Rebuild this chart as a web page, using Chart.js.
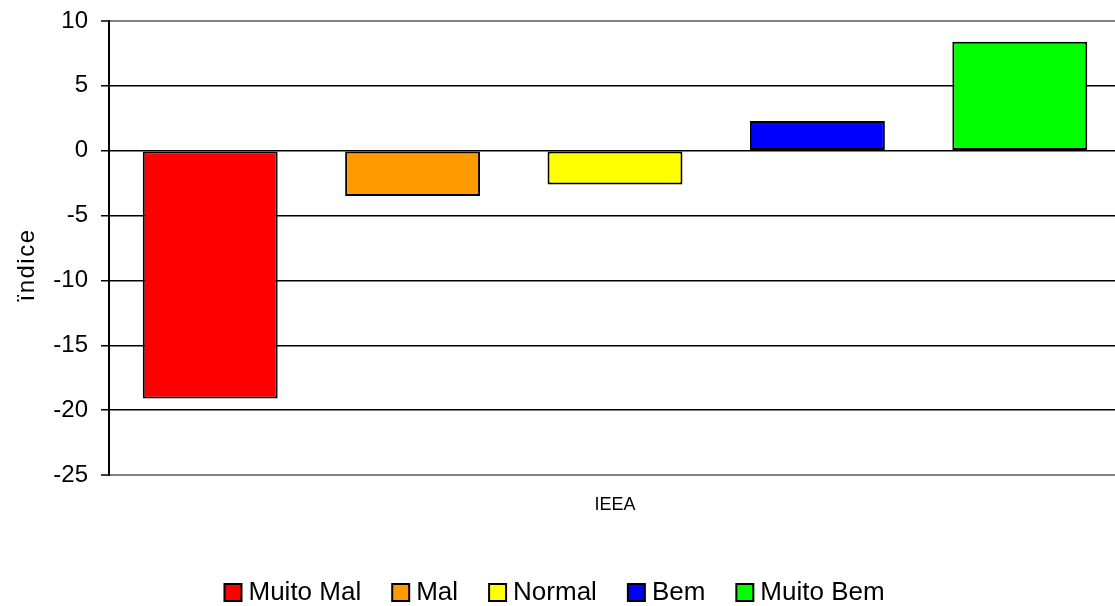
<!DOCTYPE html>
<html>
<head>
<meta charset="utf-8">
<script src="https://cdn.jsdelivr.net/npm/chart.js@4.4.1/dist/chart.umd.min.js"></script>
<style>
html,body{margin:0;padding:0;overflow:hidden;background:#fff;width:1115px;height:606px}
#wrap{position:absolute;left:0;top:0;width:1121px;height:606px}
</style>
</head>
<body>
<div id="wrap"><canvas id="c"></canvas></div>
<script>
// ---- data ----
const categories = ['IEEA'];
const seriesNames = ['Muito Mal', 'Mal', 'Normal', 'Bem', 'Muito Bem'];
const muitoMal = [-19.1];
const mal = [-3.5];
const normal = [-2.6];
const bem = [2.3];
const muitoBem = [8.4];
const yTicks = [-25, -20, -15, -10, -5, 0, 5, 10];
const yAxisTitle = 'ïndice';

// ---- styles ----
const seriesColors = ['#FF0000', '#FF9900', '#FFFF00', '#0000FF', '#00FF00'];
const seriesData = [muitoMal, mal, normal, bem, muitoBem];
const FONT = '"Liberation Sans", Arial, sans-serif';

const datasets = seriesNames.map((name, i) => ({
  label: name,
  data: seriesData[i],
  backgroundColor: seriesColors[i],
  borderColor: '#000',
  borderWidth: 2,
  borderSkipped: false,
  categoryPercentage: 1.0,
  barPercentage: 0.6667
}));

const yMin = Math.min(...yTicks), yMax = Math.max(...yTicks);

const tweakPlugin = {
  id: 'tweak',
  afterLayout(chart) {
    const L = chart.legend;
    if (L) {
      const h = L.bottom - L.top;
      L.left = 193.5;
      L.top = 542.5;
      L.bottom = 542.5 + h;
    }
    const s = chart.scales.y;
    if (s && !s._titlePatched && typeof s.drawTitle === 'function') {
      const orig = s.drawTitle;
      s.drawTitle = function () {
        const ctx = this.ctx;
        ctx.save();
        ctx.translate(0, 17);
        try { ctx.letterSpacing = '1.5px'; } catch (e) {}
        orig.apply(this, arguments);
        ctx.restore();
      };
      s._titlePatched = true;
    }
  }
};

new Chart(document.getElementById('c'), {
  type: 'bar',
  data: { labels: categories, datasets },
  plugins: [tweakPlugin],
  options: {
    responsive: true,
    maintainAspectRatio: false,
    animation: false,
    devicePixelRatio: 1,
    layout: { padding: { top: 21, left: 5, right: 0, bottom: 0 } },
    plugins: {
      tooltip: { enabled: false },
      legend: {
        position: 'bottom',
        align: 'start',
        labels: {
          color: '#000',
          font: { family: FONT, size: 26 },
          usePointStyle: true,
          pointStyle: 'rect',
          boxWidth: 5,
          boxHeight: 17,
          padding: 37
        }
      }
    },
    scales: {
      x: {
        afterFit: (s) => { s.height = 58; },
        grid: { display: false, drawTicks: false },
        border: { display: false },
        ticks: { color: '#000', font: { family: FONT, size: 18 }, padding: 19 }
      },
      y: {
        min: yMin,
        max: yMax,
        afterFit: (s) => { s.width = 104; s.paddingTop = 0; s.paddingBottom = 0; },
        afterBuildTicks: (scale) => { scale.ticks = yTicks.map(v => ({ value: v })); },
        grid: {
          color: (ctx) => (ctx.tick && (ctx.tick.value === yMax || ctx.tick.value === yMin)) ? '#808080' : '#000',
          lineWidth: (ctx) => (ctx.tick && (ctx.tick.value === yMax || ctx.tick.value === yMin)) ? 2 : 1.5,
          tickColor: '#000',
          tickLength: 8,
          tickWidth: 1.5,
          drawTicks: true
        },
        border: { display: true, color: '#000', width: 2 },
        ticks: { color: '#000', font: { family: FONT, size: 24 }, padding: 13 },
        title: {
          display: true,
          text: yAxisTitle,
          color: '#000',
          font: { family: FONT, size: 24 },
          padding: { top: 7.6, bottom: 0 }
        }
      }
    }
  }
});
</script>
</body>
</html>
